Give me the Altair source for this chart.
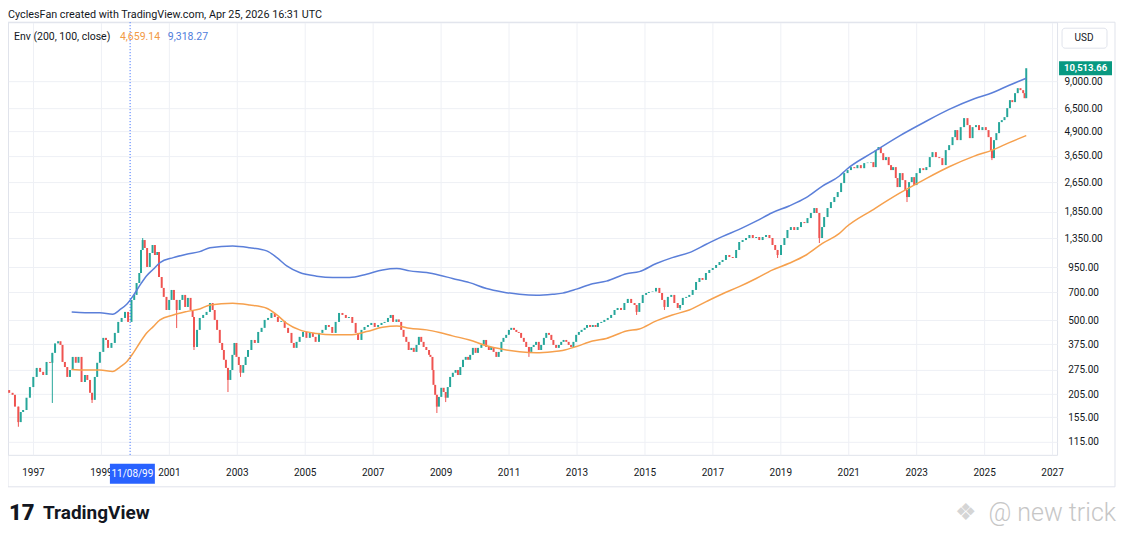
import altair as alt
import pandas as pd

# ---------------- data ----------------
dates = [
    1996.30, 1996.40, 1996.47, 1996.57, 1996.64, 1996.71, 1996.81, 1996.91, 1997.01, 1997.11,
    1997.21, 1997.30, 1997.40, 1997.50, 1997.57, 1997.65, 1997.74, 1997.81, 1997.87, 1997.94,
    1998.01, 1998.09, 1998.17, 1998.26, 1998.34, 1998.43, 1998.53, 1998.60, 1998.68, 1998.74,
    1998.82, 1998.89, 1998.97, 1999.07, 1999.15, 1999.21, 1999.31, 1999.41, 1999.51, 1999.61,
    1999.71, 1999.80, 1999.90, 1999.98, 2000.05, 2000.13, 2000.18, 2000.23, 2000.29, 2000.36,
    2000.44, 2000.52, 2000.59, 2000.66, 2000.71, 2000.79, 2000.85, 2000.93, 2001.01, 2001.08,
    2001.15, 2001.23, 2001.32, 2001.40, 2001.48, 2001.56, 2001.64, 2001.70, 2001.74, 2001.83,
    2001.91, 2002.01, 2002.11, 2002.21, 2002.29, 2002.35, 2002.42, 2002.50, 2002.57, 2002.62,
    2002.68, 2002.74, 2002.81, 2002.87, 2002.93, 2002.99, 2003.06, 2003.11, 2003.19, 2003.26,
    2003.33, 2003.43, 2003.53, 2003.63, 2003.73, 2003.82, 2003.92, 2004.02, 2004.12, 2004.21,
    2004.31, 2004.41, 2004.51, 2004.61, 2004.68, 2004.76, 2004.85, 2004.95, 2005.05, 2005.15,
    2005.24, 2005.32, 2005.42, 2005.52, 2005.62, 2005.71, 2005.81, 2005.91, 2006.01, 2006.11,
    2006.21, 2006.30, 2006.40, 2006.50, 2006.57, 2006.67, 2006.76, 2006.86, 2006.96, 2007.06,
    2007.16, 2007.26, 2007.35, 2007.45, 2007.53, 2007.60, 2007.70, 2007.77, 2007.84, 2007.91,
    2007.99, 2008.06, 2008.14, 2008.21, 2008.29, 2008.36, 2008.43, 2008.50, 2008.58, 2008.66,
    2008.70, 2008.76, 2008.79, 2008.84, 2008.89, 2008.95, 2009.02, 2009.09, 2009.15, 2009.21,
    2009.28, 2009.36, 2009.44, 2009.51, 2009.58, 2009.66, 2009.74, 2009.81, 2009.87, 2009.95,
    2010.03, 2010.10, 2010.20, 2010.27, 2010.34, 2010.42, 2010.49, 2010.56, 2010.64, 2010.71,
    2010.79, 2010.85, 2010.93, 2011.01, 2011.08, 2011.16, 2011.23, 2011.30, 2011.37, 2011.45,
    2011.52, 2011.60, 2011.67, 2011.74, 2011.81, 2011.89, 2011.96, 2012.04, 2012.11, 2012.19,
    2012.26, 2012.32, 2012.40, 2012.48, 2012.55, 2012.62, 2012.70, 2012.77, 2012.84, 2012.91,
    2012.99, 2013.07, 2013.15, 2013.24, 2013.31, 2013.40, 2013.48, 2013.56, 2013.63, 2013.73,
    2013.82, 2013.92, 2014.02, 2014.12, 2014.21, 2014.31, 2014.41, 2014.51, 2014.61, 2014.71,
    2014.77, 2014.85, 2014.95, 2015.05, 2015.13, 2015.24, 2015.34, 2015.44, 2015.52, 2015.59,
    2015.69, 2015.79, 2015.88, 2015.98, 2016.05, 2016.13, 2016.23, 2016.32, 2016.42, 2016.52,
    2016.62, 2016.71, 2016.81, 2016.91, 2017.01, 2017.11, 2017.21, 2017.30, 2017.40, 2017.50,
    2017.60, 2017.70, 2017.79, 2017.89, 2017.99, 2018.09, 2018.19, 2018.29, 2018.38, 2018.48,
    2018.58, 2018.68, 2018.77, 2018.85, 2018.92, 2019.02, 2019.12, 2019.21, 2019.31, 2019.41,
    2019.51, 2019.61, 2019.71, 2019.80, 2019.90, 2020.00, 2020.07, 2020.15, 2020.23, 2020.29,
    2020.39, 2020.49, 2020.59, 2020.69, 2020.79, 2020.88, 2020.98, 2021.08, 2021.18, 2021.27,
    2021.37, 2021.47, 2021.57, 2021.67, 2021.74, 2021.81, 2021.89, 2021.96, 2022.03, 2022.11,
    2022.19, 2022.26, 2022.32, 2022.40, 2022.45, 2022.52, 2022.60, 2022.68, 2022.73, 2022.79,
    2022.87, 2022.94, 2023.01, 2023.11, 2023.21, 2023.30, 2023.40, 2023.48, 2023.58, 2023.68,
    2023.77, 2023.87, 2023.97, 2024.07, 2024.15, 2024.21, 2024.31, 2024.41, 2024.51, 2024.58,
    2024.66, 2024.76, 2024.85, 2024.95, 2025.05, 2025.13, 2025.20, 2025.23, 2025.29, 2025.36,
    2025.44, 2025.52, 2025.60, 2025.68, 2025.76, 2025.83, 2025.91, 2025.99, 2026.07, 2026.15,
    2026.19, 2026.24,
]
closes = [
    208, 203, 176, 146, 165, 169, 196, 223, 252, 281,
    268, 258, 302, 299, 337, 378, 388, 371, 302, 284,
    252, 274, 321, 299, 321, 237, 258, 243, 208, 191,
    252, 299, 341, 404, 394, 358, 380, 429, 490, 514,
    553, 490, 639, 679, 784, 885, 1169, 1318, 1197, 952,
    1127, 1241, 1100, 1141, 843, 739, 663, 566, 639, 721,
    639, 566, 639, 679, 587, 655, 566, 520, 362, 445,
    514, 533, 553, 616, 566, 502, 445, 380, 349, 310,
    281, 243, 274, 329, 380, 321, 291, 265, 291, 321,
    349, 394, 380, 434, 456, 502, 514, 546, 520, 490,
    495, 456, 429, 380, 358, 385, 409, 434, 404, 429,
    409, 385, 429, 445, 472, 461, 429, 490, 546, 533,
    514, 520, 484, 429, 394, 445, 461, 472, 484, 461,
    472, 484, 490, 514, 533, 490, 505, 490, 445, 409,
    385, 349, 358, 341, 371, 409, 385, 362, 349, 329,
    321, 274, 229, 203, 176, 198, 221, 210, 196, 223,
    252, 265, 274, 258, 284, 310, 321, 310, 329, 358,
    337, 358, 371, 394, 362, 349, 362, 341, 321, 341,
    385, 404, 419, 445, 456, 445, 434, 429, 404, 385,
    362, 341, 362, 371, 385, 349, 371, 404, 429, 419,
    394, 371, 358, 371, 385, 394, 385, 371, 362, 385,
    419, 434, 445, 456, 472, 461, 472, 461, 484, 490,
    502, 514, 533, 566, 580, 566, 616, 647, 616, 601,
    553, 616, 679, 695, 704, 708, 739, 695, 639, 587,
    663, 679, 616, 580, 601, 655, 663, 679, 721, 794,
    833, 814, 885, 918, 940, 975, 1011, 1036, 1100, 1074,
    1061, 1169, 1287, 1318, 1351, 1401, 1351, 1367, 1318, 1367,
    1401, 1351, 1241, 1169, 1100, 1241, 1351, 1488, 1542, 1488,
    1542, 1638, 1618, 1719, 1827, 1940, 1827, 1351, 1542, 1740,
    1940, 2086, 2216, 2354, 2624, 2960, 3070, 3182, 3141, 3260,
    3141, 3340, 3360, 3380, 3182, 3908, 4054, 3768, 3463, 3591,
    3260, 3070, 3182, 2788, 2500, 2960, 2720, 2411, 2216, 2655,
    2820, 2561, 2960, 3141, 3070, 3182, 3591, 3814, 3591, 3548,
    3260, 3908, 4151, 4571, 4977, 4409, 5160, 5753, 5287, 4517,
    5160, 5287, 4977, 5160, 4977, 4571, 3908, 3548, 4409, 4798,
    5481, 5615, 5822, 6490, 7150, 6979, 7780, 8263, 8066, 7780,
    7318, 10513.66,
]
first_open = 215

wick_dates = [1996.57, 1997.57, 1998.74, 2000.23, 2001.23, 2001.74, 2002.74, 2003.11, 2008.89,
              2009.15, 2011.60, 2014.77, 2015.59, 2016.05, 2018.92, 2020.15, 2022.73, 2025.23]
wick_lows = [138, 184, 184, 1169, 455, 349, 210, 252, 163,
             186, 321, 533, 566, 566, 1061, 1271, 2086, 3463]
wick_highs = [176, 337, 208, 1350, 639, 520, 281, 291, 203,
              210, 362, 601, 639, 601, 1169, 1827, 2411, 3908]

env_dates = [
    1998.14, 1998.53, 1998.97, 1999.35, 1999.56, 1999.76, 1999.95, 2000.15, 2000.34, 2000.54,
    2000.74, 2001.13, 2001.52, 2001.91, 2002.21, 2002.88, 2003.38, 2003.88, 2004.18, 2004.47,
    2004.85, 2005.35, 2005.82, 2006.32, 2006.82, 2007.29, 2007.71, 2008.09, 2008.59, 2008.97,
    2009.35, 2009.85, 2010.35, 2010.82, 2011.32, 2011.82, 2012.29, 2012.59, 2013.00, 2013.47,
    2013.88, 2014.47, 2014.85, 2015.35, 2015.82, 2016.32, 2016.82, 2017.29, 2017.79, 2018.29,
    2018.76, 2019.26, 2019.76, 2020.24, 2020.74, 2020.94, 2021.71, 2022.50, 2023.24, 2023.97,
    2024.71, 2025.24, 2025.74, 2026.24,
]
env_basis = [
    276, 274, 274, 269, 284, 303, 336, 382, 427, 463,
    502, 533, 555, 573, 601, 614, 601, 578, 533, 482,
    445, 426, 419, 419, 436, 459, 467, 454, 445, 431,
    414, 394, 367, 352, 342, 338, 342, 347, 364, 389,
    401, 439, 450, 496, 533, 566, 626, 687, 750, 828,
    917, 995, 1100, 1266, 1429, 1542, 1894, 2316, 2737, 3194,
    3634, 3908, 4278, 4659.14,
]
env_upper = [
    552, 548, 548, 538, 568, 606, 672, 764, 854, 926,
    1004, 1066, 1110, 1146, 1202, 1228, 1202, 1156, 1066, 964,
    890, 852, 838, 838, 872, 918, 934, 908, 890, 862,
    828, 788, 734, 704, 684, 676, 684, 694, 728, 778,
    802, 878, 900, 992, 1066, 1132, 1252, 1374, 1500, 1656,
    1834, 1990, 2200, 2532, 2858, 3084, 3788, 4632, 5474, 6388,
    7268, 7816, 8556, 9318.27,
]

price_ticks = [115, 155, 205, 275, 375, 500, 700, 950, 1350, 1850, 2650, 3650, 4900, 6500, 9000]
year_ticks = list(range(1997, 2028, 2))
crosshair_dates = [1999.86]
crosshair_label = "11/08/99"
last_price = [10513.66]
last_price_label = "10,513.66"
header_text = "CyclesFan created with TradingView.com, Apr 25, 2026 16:31 UTC"
legend_name = "Env (200, 100, close)"
legend_basis = "4,659.14"
legend_upper = "9,318.27"

# ---------------- tables ----------------
opens = [first_open] + closes[:-1]
candles = pd.DataFrame({"t": dates, "open": opens, "close": closes})
candles["dir"] = ["up" if c >= o else "down" for o, c in zip(opens, closes)]
wicks = pd.DataFrame({"t": wick_dates, "low": wick_lows, "high": wick_highs})
wicks["dir"] = [candles.loc[candles["t"] == d, "dir"].iloc[0] for d in wick_dates]
env = pd.DataFrame({"t": env_dates, "basis": env_basis, "upper": env_upper})
one = pd.DataFrame({"a": [0]})

FONT = "Roboto"
TXT = "#131722"
GRID = "#eef0f5"
FRAME = "#e0e3eb"

x_scale = alt.Scale(domain=[1996.265, 2027.147], nice=False, zero=False)
y_scale = alt.Scale(type="log", domain=[98.3, 18330], nice=False)
x_axis = alt.Axis(values=year_ticks, format="d", title=None, grid=True, gridColor=GRID,
                  domain=False, ticks=False, labelPadding=13, labelFontSize=10,
                  labelColor=TXT, labelFont=FONT, labelOverlap=False, labelFlush=False)
y_axis = alt.Axis(orient="right", values=price_ticks, format=",.2f", title=None, grid=True,
                  gridColor=GRID, domain=False, ticks=False, labelPadding=26,
                  labelAlign="center", labelBaseline="middle", labelFontSize=10,
                  labelColor=TXT, labelFont=FONT, labelOverlap=False)
X = alt.X("t:Q", scale=x_scale, axis=x_axis)
dir_color = alt.Color("dir:N", scale=alt.Scale(domain=["up", "down"], range=["#26a69a", "#ef5350"]),
                      legend=None)

frame = alt.Chart(one).mark_rect(fillOpacity=0, stroke=FRAME, strokeWidth=1).encode(
    x=alt.value(0), x2=alt.value(1108), y=alt.value(0), y2=alt.value(465))

wick_layer = alt.Chart(wicks).mark_rule(strokeWidth=1).encode(
    x=X, y=alt.Y("low:Q", scale=y_scale, axis=y_axis), y2="high:Q", color=dir_color)

bodies = alt.Chart(candles).mark_rule(strokeWidth=2).encode(
    x=X, y=alt.Y("open:Q", scale=y_scale, axis=y_axis), y2="close:Q", color=dir_color)

basis_line = alt.Chart(env).mark_line(color="#f6a04d", strokeWidth=1.5, interpolate="monotone").encode(
    x=X, y=alt.Y("basis:Q", scale=y_scale, axis=y_axis))
upper_line = alt.Chart(env).mark_line(color="#5b7fd9", strokeWidth=1.5, interpolate="monotone").encode(
    x=X, y=alt.Y("upper:Q", scale=y_scale, axis=y_axis))

cross = alt.Chart(pd.DataFrame({"t": crosshair_dates})).mark_rule(
    color="#2962ff", strokeDash=[1, 2], strokeWidth=1).encode(x=X)

cross_box = alt.Chart(one).mark_rule(color="#2962ff", strokeWidth=20).encode(
    x=alt.value(102), x2=alt.value(147), y=alt.value(452))
cross_txt = alt.Chart(one).mark_text(color="white", fontSize=10, font=FONT, baseline="middle").encode(
    x=alt.value(124.5), y=alt.value(452), text=alt.value(crosshair_label))

lp = pd.DataFrame({"p": last_price})
price_box = alt.Chart(lp).mark_rule(color="#089981", strokeWidth=14).encode(
    x=alt.value(1052), x2=alt.value(1105), y=alt.Y("p:Q", scale=y_scale, axis=y_axis))
price_txt = alt.Chart(lp).mark_text(color="white", fontSize=9.5, font=FONT, fontWeight="bold",
                                     baseline="middle").encode(
    x=alt.value(1078.5), y=alt.Y("p:Q", scale=y_scale, axis=y_axis), text=alt.value(last_price_label))

usd_box = alt.Chart(one).mark_rect(fill="white", stroke=FRAME, cornerRadius=3).encode(
    x=alt.value(1055), x2=alt.value(1100), y=alt.value(6), y2=alt.value(26))
usd_txt = alt.Chart(one).mark_text(color=TXT, fontSize=10, font=FONT, baseline="middle").encode(
    x=alt.value(1077), y=alt.value(16), text=alt.value("USD"))

def label(txt, x, y, size, color, align="left", weight="normal"):
    return alt.Chart(one).mark_text(color=color, fontSize=size, font=FONT, align=align,
                                    baseline="middle", fontWeight=weight).encode(
        x=alt.value(x), y=alt.value(y), text=alt.value(txt))

header = label(header_text, 0, -7, 10.8, TXT)
leg1 = label(legend_name, 6, 15, 10.5, TXT)
leg2 = label(legend_basis, 112, 15, 10.5, "#f29a45")
leg3 = label(legend_upper, 160, 15, 10.5, "#4f7ddb")
logo1 = label("17", 1, 491, 22, "#131722", weight=900)
logo2 = label("TradingView", 35, 491, 19, "#131722", weight="bold")
wm_icon = label("\u2756", 948, 491, 24, "#d5d5d5")
wm = label("@ new trick", 1109, 491, 25, "#c6c6c6", align="right", weight=300)

chart = alt.layer(
    frame, wick_layer, bodies, basis_line, upper_line, cross, cross_box, cross_txt,
    price_box, price_txt, usd_box, usd_txt, header, leg1, leg2, leg3, logo1, logo2, wm_icon, wm
).properties(
    width=1050, height=433,
    autosize=alt.AutoSizeParams(type="none"),
    padding={"left": 0, "top": 14, "right": 60, "bottom": 74},
    background="white",
).configure_view(stroke=FRAME)

chart.save("out.html", embed_options={"renderer": "svg", "actions": False})
